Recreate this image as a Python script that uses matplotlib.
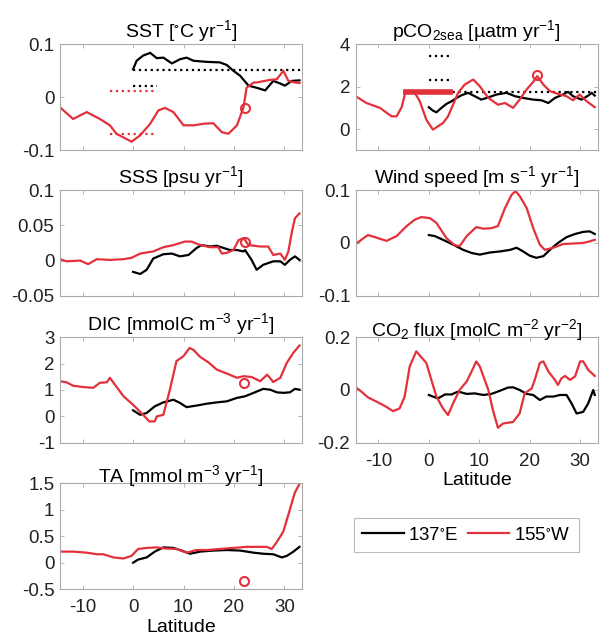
# -------------------------
# trends along the two transects (137E and 155W)
# -------------------------

import matplotlib
matplotlib.use("Agg")
import matplotlib.pyplot as plt
from matplotlib.lines import Line2D

plt.rcParams['font.family'] = ['Liberation Sans', 'DejaVu Sans']
plt.rcParams['mathtext.fontset'] = 'custom'
plt.rcParams['mathtext.rm'] = 'Liberation Sans'
plt.rcParams['mathtext.it'] = 'Liberation Sans:italic'
plt.rcParams['mathtext.default'] = 'regular'
plt.rcParams['axes.unicode_minus'] = False

RED = '#e2313b'
BLACK = 'k'

# -------------------------
# DADOS
# -------------------------

# SST
sst_lat_e = [0, 0.7, 2.0, 3.4, 4.7, 6.0, 7.7, 9.3, 10.6, 12.0, 14.6, 17.2, 18.6, 19.9,
             21.2, 22.9, 24.5, 26.2, 27.8, 29.2, 30.1, 31.5, 33.0]
sst_e = [0.053, 0.069, 0.079, 0.084, 0.074, 0.075, 0.064, 0.072, 0.075, 0.069, 0.067, 0.066,
         0.061, 0.050, 0.041, 0.022, 0.018, 0.013, 0.031, 0.026, 0.022, 0.031, 0.032]
sst_lat_w = [-14.5, -11.9, -9.2, -6.6, -4.6, -3.3, -0.3, 1.4, 3.4, 5.0, 6.3, 8.0, 10.0, 12.0,
             14.0, 15.9, 17.6, 18.9, 20.6, 21.9, 22.5, 23.9, 24.5, 27.2, 28.5, 29.8, 30.8,
             32.1, 33.0]
sst_w = [-0.019, -0.041, -0.028, -0.041, -0.053, -0.069, -0.084, -0.072, -0.050, -0.025,
         -0.020, -0.028, -0.053, -0.053, -0.050, -0.049, -0.066, -0.069, -0.053, -0.019,
         0.018, 0.028, 0.028, 0.033, 0.034, 0.050, 0.031, 0.028, 0.027]
sst_circle = (22.2, -0.02)
sst_ref_e = [(0, 33.5, 0.051), (0, 4.7, 0.021)]
sst_ref_w = [(-4.6, 4.4, 0.011), (-4.6, 4.4, -0.070)]

# pCO2sea
pco2_lat_e = [0, 0.8, 1.5, 2.5, 3.5, 4.5, 5.5, 6.5, 7.8, 9.1, 10.4, 12.1, 13.4, 15.4, 17.1,
              18.7, 20.7, 22.3, 23.7, 25.0, 26.6, 27.6, 28.6, 30.3, 31.6, 32.3, 32.9]
pco2_e = [1.03, 0.87, 0.79, 1.00, 1.19, 1.31, 1.47, 1.60, 1.71, 1.55, 1.39, 1.52, 1.63, 1.71,
          1.55, 1.47, 1.39, 1.36, 1.23, 1.47, 1.63, 1.76, 1.55, 1.39, 1.58, 1.71, 1.58]
pco2_lat_w = [-14.5, -12.4, -9.7, -7.4, -6.4, -5.4, -4.6, -3.0, -1.8, -0.5, 0.8, 1.8, 2.8,
              3.8, 4.8, 5.8, 7.1, 8.8, 10.1, 11.8, 13.7, 15.1, 16.7, 18.0, 19.4, 20.7, 21.5,
              22.7, 24.0, 25.6, 27.3, 28.6, 29.9, 31.3, 32.9]
pco2_w = [1.55, 1.23, 1.00, 0.60, 0.60, 1.03, 1.79, 1.80, 1.31, 0.44, -0.03, 0.13, 0.28, 0.60,
          1.15, 1.71, 2.10, 2.34, 2.02, 1.47, 1.15, 1.23, 1.00, 1.39, 1.87, 2.23, 2.50, 2.10,
          1.79, 1.66, 1.55, 1.36, 1.63, 1.31, 1.03]
pco2_circle = (21.5, 2.55)
pco2_ref_e = [(0, 33.5, 1.74), (0, 4.5, 2.31), (0, 4.5, 3.44)]
pco2_bar_w = (-5.1, 4.8, 1.74)

# SSS
sss_lat_e = [0, 1.4, 2.7, 4.0, 6.0, 7.7, 9.3, 11.0, 12.6, 13.6, 15.3, 16.6, 17.9, 19.2, 20.6,
             21.9, 22.2, 23.5, 24.5, 25.8, 27.8, 29.2, 30.1, 31.1, 32.1, 33.0]
sss_e = [-0.016, -0.019, -0.013, 0.003, 0.009, 0.010, 0.006, 0.008, 0.018, 0.022, 0.020, 0.021,
         0.018, 0.015, 0.015, 0.013, 0.015, 0.001, -0.013, -0.006, -0.001, -0.001, -0.006,
         0.001, 0.006, 0.001]
sss_lat_w = [-14.5, -13.2, -10.5, -8.9, -7.2, -4.6, -1.9, -0.3, 1.4, 4.0, 6.0, 8.0, 10.3,
             11.6, 13.3, 15.3, 16.9, 17.6, 18.6, 19.9, 20.9, 21.9, 22.9, 25.2, 26.8, 27.8,
             29.2, 30.1, 30.8, 31.5, 32.1, 33.0]
sss_w = [0.002, -0.001, 0.000, -0.005, 0.002, 0.001, 0.002, 0.004, 0.010, 0.013, 0.019, 0.022,
         0.027, 0.027, 0.022, 0.019, 0.019, 0.010, 0.011, 0.015, 0.029, 0.032, 0.022, 0.020,
         0.020, 0.008, 0.010, 0.001, 0.013, 0.041, 0.060, 0.067]
sss_circle = (22.2, 0.027)

# Wind speed
wind_lat_e = [0, 1.2, 2.8, 4.8, 6.8, 8.5, 10.1, 12.1, 14.1, 16.1, 17.4, 18.7, 20.0, 21.3,
              22.7, 24.0, 25.6, 27.3, 29.0, 30.6, 31.9, 32.9]
wind_e = [0.015, 0.013, 0.006, -0.003, -0.013, -0.019, -0.022, -0.018, -0.016, -0.013, -0.009,
          -0.016, -0.024, -0.028, -0.025, -0.013, 0.000, 0.011, 0.017, 0.021, 0.022, 0.017]
wind_lat_w = [-14.5, -13.4, -12.1, -10.7, -8.4, -6.4, -4.4, -2.8, -1.5, 0.2, 1.5, 3.5, 5.1,
              6.1, 7.5, 9.4, 10.8, 12.4, 13.7, 15.1, 16.4, 17.2, 18.0, 19.4, 20.7, 22.0,
              23.0, 24.7, 26.6, 28.6, 30.6, 31.9, 32.9]
wind_w = [-0.002, 0.006, 0.015, 0.011, 0.004, 0.013, 0.032, 0.044, 0.049, 0.047, 0.038, 0.009,
          -0.004, -0.006, 0.013, 0.030, 0.027, 0.028, 0.032, 0.066, 0.091, 0.098, 0.089, 0.066,
          0.028, -0.003, -0.013, -0.009, -0.002, -0.001, 0.000, 0.003, 0.006]

# DIC
dic_lat_e = [0, 1.4, 2.7, 4.3, 6.0, 8.0, 9.3, 10.6, 12.6, 14.6, 16.6, 18.6, 20.6, 22.2, 23.9,
             25.8, 27.2, 28.5, 29.8, 31.1, 32.1, 33.0]
dic_e = [0.23, 0.06, 0.13, 0.38, 0.53, 0.63, 0.51, 0.35, 0.41, 0.48, 0.53, 0.57, 0.70, 0.76,
         0.89, 1.04, 1.01, 0.91, 0.89, 0.91, 1.04, 1.01]
dic_lat_w = [-14.5, -13.2, -11.9, -9.9, -7.9, -6.6, -5.2, -4.6, -3.6, -1.9, 0.0, 2.0, 3.2,
             4.3, 4.7, 6.0, 7.3, 8.6, 10.0, 11.2, 12.0, 13.3, 14.9, 16.6, 18.6, 20.6, 21.9,
             23.5, 25.2, 26.6, 27.8, 29.2, 30.5, 31.8, 33.0]
dic_w = [1.33, 1.29, 1.16, 1.11, 1.08, 1.27, 1.29, 1.46, 1.20, 0.76, 0.44, 0.06, -0.19, -0.19,
         0.00, 0.06, 1.01, 2.09, 2.28, 2.59, 2.51, 2.25, 2.05, 1.77, 1.62, 1.46, 1.52, 1.49,
         1.33, 1.58, 1.30, 1.46, 2.03, 2.41, 2.68]
dic_circle = (22.0, 1.27)

# CO2 flux
flux_lat_e = [0, 0.8, 1.8, 3.2, 4.5, 5.8, 7.5, 9.1, 10.8, 12.4, 14.1, 15.7, 16.7, 18.0, 19.4,
              20.7, 22.0, 23.3, 24.7, 26.0, 27.3, 28.3, 29.3, 30.6, 31.6, 32.6, 32.9]
flux_e = [-0.019, -0.025, -0.032, -0.017, -0.017, -0.006, -0.015, -0.013, -0.019, -0.015,
          -0.003, 0.009, 0.010, 0.000, -0.015, -0.019, -0.038, -0.025, -0.025, -0.019, -0.019,
          -0.051, -0.089, -0.083, -0.051, 0.000, -0.019]
flux_lat_w = [-14.5, -13.4, -12.1, -10.4, -8.7, -7.1, -5.8, -4.8, -3.8, -2.5, -1.5, -0.5, 0.5,
              1.5, 2.8, 3.8, 4.8, 6.1, 7.5, 8.8, 9.4, 10.1, 11.8, 12.7, 13.7, 14.7, 16.7, 18.0,
              19.0, 20.4, 21.0, 22.0, 22.7, 23.7, 25.0, 25.6, 26.3, 27.0, 28.0, 29.0, 30.0,
              30.6, 31.6, 32.9]
flux_w = [0.010, -0.006, -0.028, -0.044, -0.061, -0.080, -0.070, -0.025, 0.089, 0.146, 0.124,
          0.102, 0.038, -0.025, -0.070, -0.095, -0.051, 0.000, 0.032, 0.083, 0.108, 0.089,
          0.000, -0.076, -0.143, -0.127, -0.121, -0.089, -0.013, 0.006, 0.038, 0.102, 0.108,
          0.070, 0.038, 0.019, 0.044, 0.053, 0.038, 0.051, 0.108, 0.108, 0.076, 0.053]

# TA
ta_lat_e = [0, 1.0, 2.7, 4.3, 6.0, 8.0, 9.6, 11.3, 13.3, 15.9, 18.6, 21.2, 23.9, 25.8, 27.8,
            29.5, 30.5, 31.8, 33.0]
ta_e = [0.00, 0.06, 0.10, 0.21, 0.29, 0.28, 0.23, 0.17, 0.21, 0.23, 0.24, 0.23, 0.19, 0.17,
        0.16, 0.10, 0.13, 0.21, 0.30]
ta_lat_w = [-14.5, -11.9, -9.2, -7.2, -5.9, -3.9, -1.9, -0.3, 1.0, 2.7, 4.7, 6.3, 8.6, 10.6,
            12.6, 14.6, 17.2, 19.9, 22.5, 25.2, 26.5, 27.5, 28.5, 29.8, 30.8, 31.5, 32.1, 33.0]
ta_w = [0.21, 0.21, 0.19, 0.16, 0.16, 0.10, 0.08, 0.13, 0.26, 0.28, 0.29, 0.27, 0.26, 0.19,
        0.24, 0.24, 0.26, 0.28, 0.30, 0.30, 0.30, 0.26, 0.39, 0.59, 0.91, 1.14, 1.33, 1.49]
ta_circle = (22.0, -0.35)

x_ticks = [-10, 0, 10, 20, 30]

# -------------------------
# FIGURA
# -------------------------

fig = plt.figure(figsize=(6.04, 6.39), dpi=100)

col_x = [0.0993, 0.589]
row_y = [0.765, 0.537, 0.307, 0.078]
w, h = 0.4007, 0.1655


def painel(col, row, titulo, yticks, ylabels, ylim, xlabels=False):
    ax = fig.add_axes([col_x[col], row_y[row], w, h])
    ax.set_xlim(-14.5, 33.5)
    ax.set_ylim(*ylim)
    ax.set_xticks(x_ticks)
    ax.set_yticks(yticks)
    ax.set_yticklabels(ylabels)
    if xlabels:
        ax.set_xticklabels([str(t) for t in x_ticks])
        ax.set_xlabel('Latitude', fontsize=14, labelpad=2)
    else:
        ax.set_xticklabels([])
    ax.tick_params(direction='in', length=3, width=0.6, color='#aaaaaa',
                   top=True, right=True, labelsize=13.5, labelcolor='#222222')
    ax.tick_params(axis='x', pad=7)
    ax.tick_params(axis='y', pad=4)
    for s in ax.spines.values():
        s.set_color('#aaaaaa')
        s.set_linewidth(0.8)
    ax.set_title(titulo, fontsize=14, pad=1)
    return ax


def linhas(ax, lat_e, val_e, lat_w, val_w):
    if lat_e is not None:
        ax.plot(lat_e, val_e, color=BLACK, lw=1.6)
    ax.plot(lat_w, val_w, color=RED, lw=1.6)


def circulo(ax, pt):
    ax.plot(pt[0], pt[1], 'o', mfc='none', mec=RED, mew=1.5, ms=6.5)


# SST
ax = painel(0, 0, 'SST [$^{\\circ}$C yr$^{-1}$]', [-0.1, 0, 0.1], ['-0.1', '0', '0.1'],
            (-0.1, 0.1))
for x0, x1, v in sst_ref_e:
    ax.plot([x0, x1], [v, v], ':', color=BLACK, lw=1.6)
for x0, x1, v in sst_ref_w:
    ax.plot([x0, x1], [v, v], ':', color=RED, lw=1.6)
linhas(ax, sst_lat_e, sst_e, sst_lat_w, sst_w)
circulo(ax, sst_circle)

# pCO2
ax = painel(1, 0, 'pCO$_{2sea}$ [µatm yr$^{-1}$]', [0, 2, 4], ['0', '2', '4'], (-1, 4))
for x0, x1, v in pco2_ref_e:
    ax.plot([x0, x1], [v, v], ':', color=BLACK, lw=1.6)
linhas(ax, pco2_lat_e, pco2_e, pco2_lat_w, pco2_w)
ax.plot([pco2_bar_w[0], pco2_bar_w[1]], [pco2_bar_w[2]] * 2, color=RED, lw=4,
        solid_capstyle='butt')
circulo(ax, pco2_circle)

# SSS
ax = painel(0, 1, 'SSS [psu yr$^{-1}$]', [-0.05, 0, 0.05, 0.1],
            ['-0.05', '0', '0.05', '0.1'], (-0.05, 0.1))
linhas(ax, sss_lat_e, sss_e, sss_lat_w, sss_w)
circulo(ax, sss_circle)

# Wind speed
ax = painel(1, 1, 'Wind speed [m s$^{-1}$ yr$^{-1}$]', [-0.1, 0, 0.1], ['-0.1', '0', '0.1'],
            (-0.1, 0.1))
linhas(ax, wind_lat_e, wind_e, wind_lat_w, wind_w)

# DIC
ax = painel(0, 2, 'DIC [mmolC m$^{-3}$ yr$^{-1}$]', [-1, 0, 1, 2, 3],
            ['-1', '0', '1', '2', '3'], (-1, 3))
linhas(ax, dic_lat_e, dic_e, dic_lat_w, dic_w)
circulo(ax, dic_circle)

# CO2 flux
ax = painel(1, 2, 'CO$_2$ flux [molC m$^{-2}$ yr$^{-2}$]', [-0.2, 0, 0.2],
            ['-0.2', '0', '0.2'], (-0.2, 0.2), xlabels=True)
linhas(ax, flux_lat_e, flux_e, flux_lat_w, flux_w)

# TA
ax = painel(0, 3, 'TA [mmol m$^{-3}$ yr$^{-1}$]', [-0.5, 0, 0.5, 1, 1.5],
            ['-0.5', '0', '0.5', '1', '1.5'], (-0.5, 1.5), xlabels=True)
linhas(ax, ta_lat_e, ta_e, ta_lat_w, ta_w)
circulo(ax, ta_circle)

# legenda
handles = [Line2D([], [], color=BLACK, lw=1.6), Line2D([], [], color=RED, lw=1.6)]
leg = fig.legend(handles, ['137$^{\\circ}$E', '155$^{\\circ}$W'], ncol=2, loc='center',
                 bbox_to_anchor=(0.772, 0.1625), fontsize=13.5, frameon=True, fancybox=False,
                 handlelength=2.2, columnspacing=0.5, handletextpad=0.25, borderpad=0.45,
                 borderaxespad=0)
leg.get_frame().set_edgecolor('#aaaaaa')
leg.get_frame().set_linewidth(0.8)

fig.savefig('out.png', dpi=100)
